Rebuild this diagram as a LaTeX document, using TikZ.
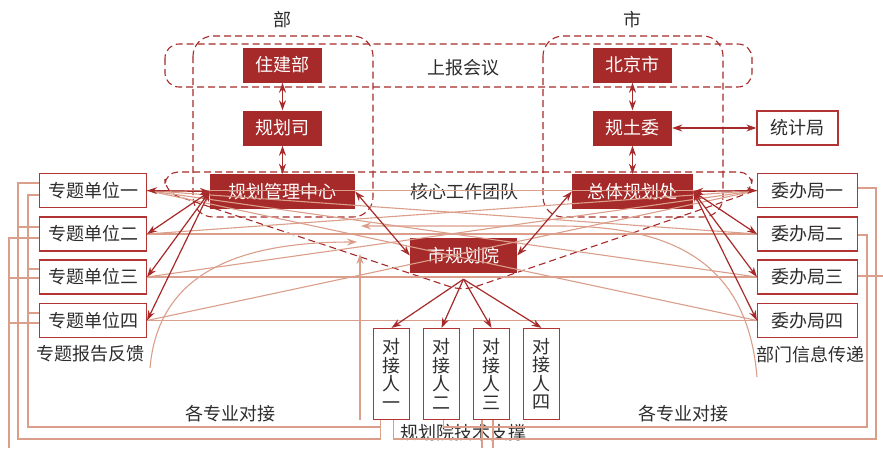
\documentclass[tikz,border=0pt]{standalone}
\usepackage{fontspec}
\setmainfont{Noto Sans CJK SC}
\usetikzlibrary{arrows.meta,calc}
\definecolor{dk}{RGB}{166,42,42}
\definecolor{bd}{RGB}{178,52,52}
\definecolor{lt}{RGB}{218,158,138}
\definecolor{tx}{RGB}{45,45,45}
\begin{document}
\begin{tikzpicture}[x=1pt,y=-1pt,
  font=\fontsize{18}{18.5}\selectfont,
  fbox/.style={fill=dk, text=white, inner sep=0pt, minimum height=35pt},
  obox/.style={draw=bd, line width=1.2pt, fill=white, text=tx, inner sep=0pt, minimum height=34pt},
  vbox/.style={draw=bd, line width=1.2pt, fill=white, text=tx, inner sep=0pt, minimum height=91pt, minimum width=36pt, align=center},
  lbl/.style={text=tx, inner sep=1pt},
  darr/.style={draw=dk, line width=1.2pt, {Stealth[length=10pt,width=7pt]}-{Stealth[length=10pt,width=7pt]}},
  sarr/.style={draw=dk, line width=1.2pt, -{Stealth[length=10pt,width=7pt]}},
  lline/.style={draw=lt, line width=1.1pt},
  larr/.style={draw=lt, line width=1.1pt, -{Stealth[length=10pt,width=7pt]}},
  dsh/.style={draw=dk, line width=1.1pt, dash pattern=on 7pt off 4pt},
]
\useasboundingbox (0,0) rectangle (883,448);

% dashed groupings
\draw[dsh, rounded corners=14pt] (165,44) rectangle (752,87);
\draw[dsh, rounded corners=20pt] (193,36) rectangle (373,217);
\draw[dsh, rounded corners=20pt] (543,36) rectangle (723,217);
\draw[dsh, rounded corners=13pt] (463,172) -- (752,172) -- (752,192) -- (463,291) -- (165,192) -- (165,172) -- cycle;

% nodes
\node[fbox, minimum width=79pt] (zjb) at (282.5,65) {住建部};
\node[fbox, minimum width=79pt] (ghs) at (282.5,128) {规划司};
\node[fbox, minimum width=145pt] (glzx) at (282.5,191.5) {规划管理中心};
\node[fbox, minimum width=79pt] (bjs) at (632.5,65) {北京市};
\node[fbox, minimum width=79pt] (gtw) at (632.5,128) {规土委};
\node[fbox, minimum width=121pt] (ztgh) at (632.5,191.5) {总体规划处};
\node[fbox, minimum width=107pt] (sghy) at (463.5,255.5) {市规划院};
\node[obox, minimum width=81pt] (tjj) at (797.5,128) {统计局};

\node[obox, minimum width=107pt] (z1) at (93,190.5) {专题单位一};
\node[obox, minimum width=107pt] (z2) at (93,234) {专题单位二};
\node[obox, minimum width=107pt] (z3) at (93,277) {专题单位三};
\node[obox, minimum width=107pt] (z4) at (93,320.5) {专题单位四};
\node[obox, minimum width=100pt] (w1) at (807.5,190.5) {委办局一};
\node[obox, minimum width=100pt] (w2) at (807.5,234) {委办局二};
\node[obox, minimum width=100pt] (w3) at (807.5,277) {委办局三};
\node[obox, minimum width=100pt] (w4) at (807.5,320.5) {委办局四};

\node[vbox] (d1) at (391.5,374) {对\\接\\人\\一};
\node[vbox] (d2) at (441.5,374) {对\\接\\人\\二};
\node[vbox] (d3) at (491.5,374) {对\\接\\人\\三};
\node[vbox] (d4) at (541.5,374) {对\\接\\人\\四};

% labels
\node[lbl] (tbu) at (282,20) {部};
\node[lbl] (tshi) at (632,20) {市};
\node[lbl] (tsb) at (463,68) {上报会议};
\node[lbl] (thx) at (464,192) {核心工作团队};
\node[lbl] (tzt) at (90,354) {专题报告反馈};
\node[lbl] (tbm) at (810,355) {部门信息传递};
\node[lbl] (tgz1) at (230,414) {各专业对接};
\node[lbl] (tgz2) at (683,414) {各专业对接};
\node[lbl] (tjs) at (463,433) {规划院技术支撑};

% light connectors between topic units and bureaus
\draw[lline] (z1.east) -- (w1.west);
\draw[lline] (z2.east) -- (w2.west);
\draw[lline] (z3.east) -- (w3.west);
\draw[lline] (z4.east) -- (w4.west);
\draw[lline] (z1.east) -- (w2.west);
\draw[lline] (z1.east) -- (w3.west);
\draw[lline] (z1.east) -- (w4.west);
\draw[lline] (z2.east) -- (w1.west);
\draw[lline] (z3.east) -- (w1.west);
\draw[lline] (z4.east) -- (w1.west);

% outer frame lines
\coordinate (la) at (18,439);
\coordinate (lb) at (28,427);
\coordinate (lc) at (9,448);
\coordinate (ra) at (876,439);
\coordinate (rb) at (867,427);
\coordinate (rc) at (883,276);
\coordinate (bd1) at (482,448);
\coordinate (bd2) at (493,448);
\draw[lline] ([yshift=7.5pt]z1.west) -| (la) -| ([xshift=-11pt]d1.south);
\draw[lline] ([yshift=-4.5pt]z1.west) -| (lb) -| ([xshift=-11pt]d1.south);
\draw[lline] ([yshift=7pt]z2.west) -| (la);
\draw[lline] ([yshift=-4pt]z2.west) -| (lc);
\draw[lline] ([yshift=8pt]z3.west) -| (lb);
\draw[lline] ([yshift=-1pt]z3.west) -| (lc);
\draw[lline] ([yshift=7.5pt]z4.west) -| (lb);
\draw[lline] ([yshift=-2.5pt]z4.west) -| (lc);
\draw[lline] ([yshift=2.5pt]w1.east) -| (ra) -| ([xshift=2pt]d1.south);
\draw[lline] ([yshift=-1pt]w2.east) -| (rb) -| ([xshift=2pt]d2.south);
\draw[lline] ([yshift=1pt]w3.east) -- (rc);
\draw[lline] (d3.south -| bd1) -- (bd1);
\draw[lline] (d3.south -| bd2) -- (bd2);

% feedback arrows
\coordinate (fa) at (150,368);
\coordinate (fae) at (357,242);
\coordinate (fb) at (757,377);
\coordinate (fbm) at (560,226);
\coordinate (fbe) at (361,226);
\coordinate (fc) at (360,420);
\coordinate (fce) at (360,254);
\draw[larr] (fa) .. controls (158,275) and (235,242) .. (fae);
\draw[larr] (fb) .. controls (748,268) and (680,226) .. (fbm) -- (fbe);
\draw[larr] (fc) -- (fce);

% dark arrows
\draw[darr] (zjb) -- (ghs);
\draw[darr] (ghs) -- (glzx);
\draw[darr] (bjs) -- (gtw);
\draw[darr] (gtw) -- (ztgh);
\draw[darr] (gtw) -- (tjj);
\draw[darr] (glzx.west) -- (z1.east);
\draw[darr] (glzx.west) -- (z2.east);
\draw[darr] (glzx.west) -- (z3.east);
\draw[darr] (glzx.west) -- (z4.east);
\draw[darr] (ztgh.east) -- (w1.west);
\draw[darr] (ztgh.east) -- (w2.west);
\draw[darr] (ztgh.east) -- (w3.west);
\draw[darr] (ztgh.east) -- (w4.west);
\draw[darr] (glzx.east) -- (sghy.west);
\draw[darr] (ztgh.west) -- (sghy.east);
\coordinate (sb) at ([yshift=-6pt]sghy.south);
\draw[sarr] (sb) -- (d1.north);
\draw[sarr] (sb) -- (d2.north);
\draw[sarr] (sb) -- (d3.north);
\draw[sarr] (sb) -- (d4.north);
\end{tikzpicture}
\end{document}
